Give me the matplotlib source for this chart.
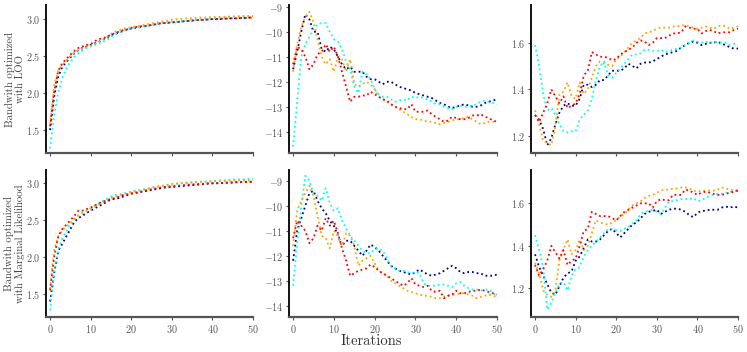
import matplotlib
matplotlib.use('Agg')
import matplotlib.pyplot as plt
import numpy as np

plt.rcParams['font.family'] = ['cmr10', 'DejaVu Serif']
plt.rcParams['mathtext.fontset'] = 'cm'
plt.rcParams['axes.formatter.use_mathtext'] = True

iterations = np.arange(51)
series_colors = ['darkblue', 'cyan', 'orange', 'red']

# ---- row 1: bandwidth optimized with LOO ----
loo_col1 = {
    'darkblue': [1.50, 1.95, 2.22, 2.35, 2.42, 2.48, 2.54, 2.58, 2.61, 2.63, 2.65, 2.67, 2.69, 2.72, 2.75, 2.78, 2.80, 2.82, 2.84, 2.86, 2.87, 2.88, 2.89, 2.90, 2.91, 2.92, 2.93, 2.94, 2.945, 2.95, 2.955, 2.96, 2.965, 2.97, 2.975, 2.98, 2.985, 2.99, 2.99, 2.995, 3.0, 3.0, 3.0, 3.005, 3.01, 3.01, 3.01, 3.015, 3.015, 3.02, 3.02],
    'cyan': [1.25, 1.70, 2.00, 2.20, 2.33, 2.42, 2.49, 2.54, 2.58, 2.61, 2.63, 2.65, 2.67, 2.69, 2.72, 2.76, 2.79, 2.82, 2.84, 2.86, 2.87, 2.88, 2.89, 2.90, 2.91, 2.92, 2.93, 2.94, 2.95, 2.955, 2.96, 2.965, 2.97, 2.975, 2.98, 2.985, 2.99, 3.0, 3.0, 3.005, 3.01, 3.015, 3.02, 3.02, 3.025, 3.03, 3.03, 3.035, 3.035, 3.04, 3.04],
    'orange': [1.58, 2.10, 2.30, 2.38, 2.44, 2.50, 2.55, 2.58, 2.60, 2.62, 2.64, 2.66, 2.69, 2.72, 2.76, 2.80, 2.83, 2.85, 2.87, 2.88, 2.89, 2.90, 2.91, 2.92, 2.93, 2.94, 2.95, 2.96, 2.97, 2.98, 2.99, 3.0, 3.0, 3.005, 3.01, 3.01, 3.015, 3.02, 3.02, 3.025, 3.025, 3.03, 3.03, 3.03, 3.035, 3.035, 3.035, 3.04, 3.04, 3.04, 3.04],
    'red': [1.55, 2.02, 2.30, 2.40, 2.46, 2.52, 2.57, 2.61, 2.63, 2.65, 2.66, 2.70, 2.73, 2.74, 2.76, 2.79, 2.81, 2.83, 2.85, 2.86, 2.88, 2.89, 2.90, 2.905, 2.91, 2.92, 2.93, 2.94, 2.945, 2.95, 2.955, 2.96, 2.965, 2.97, 2.975, 2.98, 2.985, 2.99, 2.99, 2.995, 3.0, 3.0, 3.005, 3.005, 3.01, 3.01, 3.01, 3.015, 3.015, 3.02, 3.02],
}
loo_col2 = {
    'darkblue': [-11.5, -10.8, -10.0, -9.3, -9.5, -10.0, -10.0, -10.7, -10.8, -10.6, -10.7, -11.0, -11.3, -11.5, -11.4, -11.6, -11.6, -11.6, -11.8, -11.9, -11.9, -12.0, -12.1, -12.0, -12.0, -12.1, -12.2, -12.25, -12.3, -12.35, -12.45, -12.5, -12.55, -12.6, -12.65, -12.75, -12.85, -12.9, -13.0, -13.05, -13.0, -12.95, -12.9, -12.95, -13.0, -13.0, -12.95, -12.85, -12.8, -12.75, -12.7],
    'cyan': [-14.6, -12.8, -11.0, -10.5, -10.2, -9.9, -9.7, -9.65, -9.65, -10.0, -10.3, -10.4, -10.7, -11.2, -11.5, -12.2, -12.45, -11.6, -11.7, -11.9, -12.3, -12.5, -12.6, -12.6, -12.7, -12.8, -12.75, -12.7, -12.75, -12.6, -12.65, -12.6, -12.65, -12.7, -12.8, -12.9, -12.9, -13.0, -13.05, -13.1, -13.0, -12.95, -13.0, -13.0, -12.95, -12.9, -12.8, -12.75, -12.8, -12.85, -12.9],
    'orange': [-11.6, -10.5, -9.8, -9.4, -9.2, -9.6, -10.3, -11.0, -11.3, -11.1, -11.6, -11.0, -11.1, -11.6, -11.1, -12.1, -12.2, -12.1, -12.0, -12.1, -12.3, -12.6, -12.7, -12.8, -12.9, -13.0, -13.1, -13.2, -13.3, -13.4, -13.5, -13.5, -13.55, -13.6, -13.6, -13.65, -13.7, -13.65, -13.6, -13.55, -13.5, -13.5, -13.45, -13.4, -13.5, -13.6, -13.7, -13.65, -13.6, -13.6, -13.65],
    'red': [-11.3, -10.6, -10.7, -11.0, -11.5, -11.3, -10.9, -10.8, -10.5, -10.8, -10.6, -11.0, -11.6, -12.2, -12.8, -12.6, -12.6, -12.55, -12.55, -12.4, -12.5, -12.6, -12.7, -12.75, -12.9, -13.0, -13.05, -13.1, -13.1, -12.9, -13.2, -13.2, -13.2, -13.15, -13.3, -13.4, -13.5, -13.6, -13.55, -13.4, -13.45, -13.5, -13.5, -13.45, -13.35, -13.35, -13.3, -13.4, -13.45, -13.55, -13.6],
}
loo_col3 = {
    'darkblue': [1.29, 1.27, 1.23, 1.16, 1.19, 1.25, 1.30, 1.33, 1.34, 1.33, 1.33, 1.36, 1.42, 1.42, 1.41, 1.42, 1.44, 1.44, 1.46, 1.48, 1.48, 1.48, 1.49, 1.51, 1.50, 1.49, 1.51, 1.515, 1.515, 1.52, 1.53, 1.54, 1.55, 1.555, 1.56, 1.565, 1.58, 1.59, 1.60, 1.605, 1.60, 1.59, 1.595, 1.60, 1.60, 1.605, 1.595, 1.59, 1.58, 1.575, 1.575],
    'cyan': [1.59, 1.50, 1.38, 1.31, 1.32, 1.29, 1.25, 1.22, 1.215, 1.22, 1.22, 1.27, 1.29, 1.31, 1.36, 1.44, 1.50, 1.52, 1.46, 1.45, 1.47, 1.49, 1.51, 1.53, 1.55, 1.55, 1.555, 1.57, 1.57, 1.565, 1.565, 1.57, 1.56, 1.565, 1.57, 1.575, 1.58, 1.59, 1.60, 1.61, 1.605, 1.60, 1.605, 1.60, 1.60, 1.605, 1.60, 1.60, 1.59, 1.595, 1.60],
    'orange': [1.31, 1.25, 1.18, 1.17, 1.16, 1.24, 1.38, 1.39, 1.43, 1.37, 1.36, 1.43, 1.38, 1.40, 1.45, 1.50, 1.52, 1.51, 1.505, 1.50, 1.53, 1.54, 1.56, 1.58, 1.60, 1.61, 1.62, 1.64, 1.645, 1.65, 1.66, 1.665, 1.665, 1.665, 1.67, 1.67, 1.675, 1.675, 1.67, 1.665, 1.66, 1.665, 1.67, 1.665, 1.66, 1.67, 1.675, 1.67, 1.66, 1.665, 1.67],
    'red': [1.29, 1.26, 1.30, 1.34, 1.40, 1.37, 1.34, 1.37, 1.32, 1.33, 1.34, 1.38, 1.46, 1.48, 1.56, 1.55, 1.54, 1.54, 1.535, 1.525, 1.53, 1.55, 1.56, 1.57, 1.58, 1.60, 1.61, 1.605, 1.59, 1.60, 1.62, 1.62, 1.62, 1.63, 1.64, 1.64, 1.645, 1.67, 1.665, 1.66, 1.66, 1.64, 1.65, 1.655, 1.65, 1.64, 1.645, 1.645, 1.645, 1.655, 1.66],
}

# ---- row 2: bandwidth optimized with marginal likelihood ----
ml_col1 = {
    'darkblue': [1.40, 1.78, 2.08, 2.18, 2.28, 2.38, 2.48, 2.53, 2.56, 2.60, 2.63, 2.66, 2.69, 2.72, 2.75, 2.78, 2.79, 2.80, 2.82, 2.84, 2.86, 2.87, 2.88, 2.89, 2.90, 2.91, 2.92, 2.93, 2.94, 2.945, 2.95, 2.955, 2.96, 2.965, 2.97, 2.975, 2.98, 2.985, 2.99, 2.995, 3.0, 3.0, 3.005, 3.005, 3.01, 3.01, 3.015, 3.015, 3.02, 3.02, 3.02],
    'cyan': [1.28, 1.80, 2.10, 2.25, 2.35, 2.45, 2.52, 2.57, 2.60, 2.63, 2.66, 2.70, 2.73, 2.76, 2.79, 2.82, 2.84, 2.85, 2.86, 2.87, 2.89, 2.90, 2.91, 2.92, 2.93, 2.94, 2.95, 2.96, 2.965, 2.97, 2.98, 2.99, 3.0, 3.0, 3.005, 3.01, 3.015, 3.02, 3.02, 3.025, 3.03, 3.035, 3.04, 3.04, 3.045, 3.05, 3.05, 3.055, 3.055, 3.06, 3.06],
    'orange': [1.57, 2.10, 2.28, 2.36, 2.42, 2.46, 2.52, 2.56, 2.59, 2.62, 2.65, 2.68, 2.71, 2.74, 2.77, 2.80, 2.82, 2.83, 2.85, 2.87, 2.88, 2.89, 2.90, 2.91, 2.92, 2.94, 2.95, 2.96, 2.97, 2.98, 2.99, 3.0, 3.0, 3.005, 3.01, 3.015, 3.02, 3.02, 3.02, 3.025, 3.025, 3.03, 3.03, 3.03, 3.035, 3.035, 3.04, 3.04, 3.04, 3.04, 3.04],
    'red': [1.55, 2.00, 2.28, 2.38, 2.44, 2.50, 2.56, 2.63, 2.63, 2.65, 2.67, 2.70, 2.73, 2.75, 2.77, 2.79, 2.80, 2.82, 2.84, 2.85, 2.86, 2.87, 2.88, 2.895, 2.91, 2.92, 2.93, 2.94, 2.95, 2.955, 2.96, 2.965, 2.97, 2.975, 2.98, 2.985, 2.99, 2.99, 2.995, 3.0, 3.0, 3.0, 3.005, 3.005, 3.01, 3.01, 3.015, 3.015, 3.015, 3.02, 3.02],
}
ml_col2 = {
    'darkblue': [-12.2, -11.0, -10.5, -10.0, -9.5, -9.4, -9.8, -10.1, -10.3, -10.6, -10.8, -11.2, -11.6, -11.4, -11.4, -11.6, -11.8, -12.0, -11.8, -11.55, -11.65, -11.8, -12.0, -12.2, -12.4, -12.5, -12.6, -12.65, -12.7, -12.75, -12.65, -12.55, -12.65, -12.75, -12.8, -12.75, -12.7, -12.6, -12.5, -12.4, -12.5, -12.65, -12.7, -12.65, -12.65, -12.7, -12.7, -12.8, -12.8, -12.8, -12.75],
    'cyan': [-13.2, -11.5, -10.0, -8.8, -9.0, -9.5, -9.6, -9.8, -9.3, -9.9, -10.2, -10.1, -10.6, -10.9, -11.2, -11.4, -11.6, -11.8, -11.9, -11.9, -11.75, -11.7, -11.8, -12.1, -12.4, -12.5, -12.6, -12.6, -12.65, -12.7, -12.65, -12.7, -13.1, -13.2, -13.2, -13.2, -13.15, -13.15, -13.2, -13.25, -13.1, -13.05, -13.2, -13.3, -13.35, -13.35, -13.4, -13.35, -13.35, -13.5, -13.6],
    'orange': [-11.6, -10.2, -9.8, -9.5, -9.2, -9.6, -10.4, -11.2, -11.3, -11.7, -11.0, -11.2, -11.6, -11.1, -11.2, -11.6, -12.4, -12.2, -12.1, -12.0, -12.3, -12.6, -12.7, -12.8, -13.0, -13.1, -13.2, -13.3, -13.4, -13.45, -13.5, -13.55, -13.6, -13.6, -13.65, -13.7, -13.7, -13.65, -13.6, -13.55, -13.55, -13.5, -13.5, -13.55, -13.6, -13.7, -13.65, -13.6, -13.55, -13.6, -13.65],
    'red': [-11.3, -10.6, -10.8, -11.0, -11.5, -11.3, -10.8, -11.0, -10.5, -10.8, -10.6, -11.1, -11.7, -12.2, -12.8, -12.7, -12.6, -12.55, -12.5, -12.35, -12.45, -12.6, -12.7, -12.8, -12.9, -13.0, -13.1, -13.2, -13.1, -12.9, -13.15, -13.2, -13.25, -13.2, -13.4, -13.45, -13.4, -13.7, -13.6, -13.55, -13.4, -13.5, -13.5, -13.45, -13.4, -13.4, -13.35, -13.4, -13.45, -13.5, -13.55],
}
ml_col3 = {
    'darkblue': [1.36, 1.30, 1.26, 1.22, 1.18, 1.17, 1.21, 1.25, 1.27, 1.28, 1.33, 1.35, 1.39, 1.43, 1.42, 1.42, 1.43, 1.45, 1.47, 1.48, 1.46, 1.44, 1.46, 1.48, 1.50, 1.51, 1.53, 1.55, 1.56, 1.565, 1.57, 1.55, 1.56, 1.57, 1.575, 1.575, 1.57, 1.56, 1.545, 1.535, 1.555, 1.565, 1.565, 1.57, 1.57, 1.57, 1.58, 1.585, 1.58, 1.585, 1.58],
    'cyan': [1.45, 1.38, 1.30, 1.10, 1.13, 1.18, 1.22, 1.23, 1.19, 1.26, 1.29, 1.30, 1.35, 1.38, 1.40, 1.42, 1.44, 1.46, 1.48, 1.48, 1.475, 1.47, 1.48, 1.49, 1.505, 1.52, 1.55, 1.56, 1.565, 1.57, 1.56, 1.55, 1.58, 1.61, 1.61, 1.615, 1.62, 1.62, 1.62, 1.625, 1.61, 1.615, 1.625, 1.635, 1.64, 1.645, 1.645, 1.65, 1.655, 1.655, 1.66],
    'orange': [1.32, 1.27, 1.19, 1.17, 1.16, 1.19, 1.33, 1.385, 1.43, 1.36, 1.38, 1.43, 1.38, 1.40, 1.46, 1.52, 1.51, 1.505, 1.50, 1.51, 1.52, 1.54, 1.55, 1.57, 1.59, 1.60, 1.61, 1.625, 1.635, 1.64, 1.65, 1.66, 1.665, 1.665, 1.67, 1.67, 1.675, 1.675, 1.67, 1.66, 1.655, 1.66, 1.66, 1.66, 1.66, 1.665, 1.675, 1.67, 1.665, 1.66, 1.665],
    'red': [1.31, 1.26, 1.29, 1.33, 1.40, 1.37, 1.34, 1.38, 1.31, 1.33, 1.34, 1.40, 1.47, 1.48, 1.56, 1.55, 1.54, 1.54, 1.54, 1.53, 1.52, 1.54, 1.56, 1.57, 1.58, 1.59, 1.60, 1.60, 1.60, 1.58, 1.61, 1.62, 1.615, 1.615, 1.64, 1.64, 1.64, 1.665, 1.66, 1.65, 1.64, 1.65, 1.655, 1.65, 1.645, 1.64, 1.64, 1.645, 1.65, 1.655, 1.66],
}

row_labels = ['Bandwith optimized\nwith LOO', 'Bandwith optimized\nwith Marginal Likelihood']
panels = [[loo_col1, loo_col2, loo_col3], [ml_col1, ml_col2, ml_col3]]
ylims = [[(1.19, 3.19), (-14.85, -8.93), (1.127, 1.762)],
         [(1.19, 3.18), (-14.45, -8.57), (1.065, 1.757)]]
yticks = [[[1.5, 2.0, 2.5, 3.0], [-14, -13, -12, -11, -10, -9], [1.2, 1.4, 1.6]],
          [[1.5, 2.0, 2.5, 3.0], [-14, -13, -12, -11, -10, -9], [1.2, 1.4, 1.6]]]

W, H = 747, 352
fig = plt.figure(figsize=(W / 100, H / 100), dpi=100)

col_px = [(46, 253), (289, 497), (531, 738)]
row_px = [(5, 153), (170, 317)]
tick_col = '#555555'

for r in range(2):
    for c in range(3):
        x0, x1 = col_px[c]
        t0, b0 = row_px[r]
        ax = fig.add_axes([x0 / W, 1 - b0 / H, (x1 - x0) / W, (b0 - t0) / H])
        data = panels[r][c]
        for col in series_colors:
            ax.plot(iterations, data[col], ls=':', color=col, lw=1.3)
        ax.set_xlim(-1, 50)
        ax.set_ylim(*ylims[r][c])
        ax.set_xticks([0, 10, 20, 30, 40, 50])
        ax.set_yticks(yticks[r][c])
        if r == 0:
            ax.set_xticklabels([])
        ax.spines['top'].set_visible(False)
        ax.spines['right'].set_visible(False)
        ax.spines['left'].set_color('#111111')
        ax.spines['bottom'].set_color('#555555')
        ax.spines['left'].set_linewidth(1.4)
        ax.spines['bottom'].set_linewidth(1.6)
        ax.tick_params(axis='both', labelsize=7.3, colors=tick_col, length=2.5, width=0.8, pad=1.5)
        if c == 0:
            ax.set_ylabel(row_labels[r], fontsize=7.8, color='#444444', linespacing=1.1)
            ax.yaxis.set_label_coords(-0.1, 0.5)

fig.text(371 / W, 1 - 345 / H, 'Iterations', ha='center', va='baseline', fontsize=10.5, color='#333333')

plt.savefig('out.png', dpi=100, facecolor='white')
plt.close()
